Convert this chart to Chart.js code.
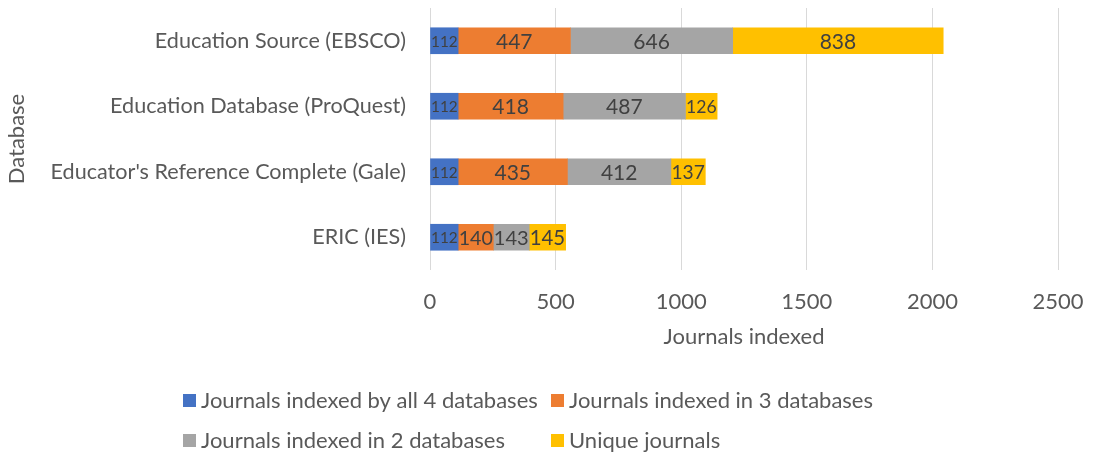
<!DOCTYPE html>
<html>
<head>
<meta charset="utf-8">
<script src="https://cdn.jsdelivr.net/npm/chart.js@4.4.1/dist/chart.umd.min.js"></script>
<style>
  html, body { margin: 0; padding: 0; background: #fff; }
  #wrap { width: 1093px; height: 457px; position: relative; }
</style>
</head>
<body>
<div id="wrap"><canvas id="chart"></canvas></div>
<script>
// ── Data ──────────────────────────────────────────────────────
const DATABASES = [
  "Education Source (EBSCO)",
  "Education Database (ProQuest)",
  "Educator's Reference Complete (Gale)",
  "ERIC (IES)",
];
const SERIES_NAMES = [
  "Journals indexed by all 4 databases",
  "Journals indexed in 3 databases",
  "Journals indexed in 2 databases",
  "Unique journals",
];
const ALL_FOUR  = [112, 112, 112, 112];
const IN_THREE  = [447, 418, 435, 140];
const IN_TWO    = [646, 487, 412, 143];
const UNIQUE    = [838, 126, 137, 145];
const X_TICKS   = [0, 500, 1000, 1500, 2000, 2500];

// ── Style ─────────────────────────────────────────────────────
const COLORS = ["#4472C4", "#ED7D31", "#A5A5A5", "#FFC000"];
const FONT = "Lato, 'Open Sans', sans-serif";
const TEXT = "#595959";
const LABEL = "#404040";
const TXT_SIZE = 22;

Chart.defaults.font.family = FONT;
Chart.defaults.font.size = TXT_SIZE;
Chart.defaults.color = TEXT;

// value labels centred inside each segment, shrunk if the segment is narrow
const segmentLabels = {
  id: "segmentLabels",
  afterDatasetsDraw(chart) {
    const ctx = chart.ctx;
    ctx.save();
    ctx.fillStyle = LABEL;
    ctx.textAlign = "center";
    ctx.textBaseline = "middle";
    chart.data.datasets.forEach((ds, i) => {
      chart.getDatasetMeta(i).data.forEach((bar, j) => {
        const txt = String(ds.data[j]);
        const w = Math.abs(bar.x - bar.base);
        let size = 21;
        ctx.font = size + "px " + FONT;
        const tw = ctx.measureText(txt).width;
        if (tw > w - 1) size = Math.max(10, size * (w - 1) / tw);
        ctx.font = size + "px " + FONT;
        ctx.fillText(txt, (bar.x + bar.base) / 2, bar.y + 1);
      });
    });
    ctx.restore();
  },
};

// legend laid out as an Excel-style grid (2 columns)
const gridLegend = {
  id: "gridLegend",
  afterDraw(chart, args, opts) {
    const ctx = chart.ctx;
    ctx.save();
    ctx.font = TXT_SIZE + "px " + FONT;
    ctx.textBaseline = "middle";
    ctx.textAlign = "left";
    chart.data.datasets.forEach((ds, i) => {
      const x = opts.cols[i % 2];
      const y = opts.rows[Math.floor(i / 2)];
      ctx.fillStyle = ds.backgroundColor;
      ctx.fillRect(x, y - 7, 13, 13);
      ctx.fillStyle = TEXT;
      ctx.fillText(ds.label, x + 18, y);
    });
    ctx.restore();
  },
};

const VALUES = [ALL_FOUR, IN_THREE, IN_TWO, UNIQUE];

new Chart(document.getElementById("chart"), {
  type: "bar",
  data: {
    labels: DATABASES,
    datasets: SERIES_NAMES.map((name, i) => ({
      label: name,
      data: VALUES[i],
      backgroundColor: COLORS[i],
      borderWidth: 0,
      barThickness: 26,
    })),
  },
  options: {
    indexAxis: "y",
    responsive: true,
    maintainAspectRatio: false,
    animation: false,
    layout: { padding: { left: 0, right: 35, top: 8, bottom: 100 } },
    plugins: {
      legend: { display: false },
      tooltip: { enabled: false },
      gridLegend: { cols: [183, 551], rows: [401, 441] },
    },
    scales: {
      x: {
        stacked: true,
        min: 0,
        max: 2500,
        afterBuildTicks: s => { s.ticks = X_TICKS.map(v => ({ value: v })); },
        afterFit: s => { s.height = 87; s.paddingLeft = 0; s.paddingRight = 0; },
        grid: { color: "#D9D9D9", drawTicks: false },
        border: { display: false },
        ticks: { padding: 19, color: TEXT, callback: v => String(v) },
        title: {
          display: true,
          text: "Journals indexed",
          color: TEXT,
          padding: { top: 0, bottom: 7 },
        },
      },
      y: {
        stacked: true,
        afterFit: s => { s.width = 430; s.paddingTop = 0; s.paddingBottom = 0; },
        grid: { display: false, drawTicks: false },
        border: { display: false },
        ticks: { padding: 24, color: TEXT, font: { size: 21.6 } },
        title: {
          display: true,
          text: "Database",
          color: TEXT,
          padding: { top: 4, bottom: 0 },
        },
      },
    },
  },
  plugins: [segmentLabels, gridLegend],
});
</script>
</body>
</html>
